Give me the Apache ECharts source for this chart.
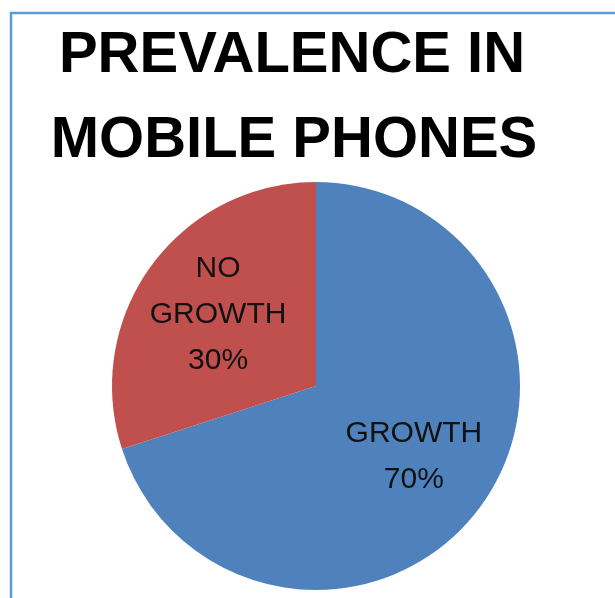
<!DOCTYPE html>
<html>
<head>
<meta charset="utf-8">
<script src="https://cdn.jsdelivr.net/npm/echarts@6/dist/echarts.min.js"></script>
<style>
  html, body { margin: 0; padding: 0; background: #fff; }
  #chart { width: 615px; height: 598px; }
</style>
</head>
<body>
<div id="chart"></div>
<script>
// Share of phones with and without growth
const categories = ['GROWTH', 'NO\nGROWTH'];
const values = [70, 30];
const colors = ['#4f81bd', '#c0504d'];
const titleLines = ['PREVALENCE IN', 'MOBILE PHONES'];

const chart = echarts.init(document.getElementById('chart'), null, { renderer: 'canvas' });

const slices = categories.map((name, i) => ({ name, value: values[i], itemStyle: { color: colors[i] } }));
const labelSlices = categories.map((name, i) => ({ name, value: values[i] }));

const font = 'Liberation Sans, Arial, sans-serif';

chart.setOption({
  backgroundColor: '#ffffff',
  animation: false,
  graphic: [
    {
      type: 'rect',
      shape: { x: 11, y: 13, width: 800, height: 800 },
      style: { fill: 'none', stroke: '#5b9bd5', lineWidth: 2.5 },
      silent: true
    },
    {
      type: 'text', x: 292, y: 56,
      style: { text: titleLines[0], fill: '#000', font: 'bold 58px ' + font, textAlign: 'center', textVerticalAlign: 'middle' }
    },
    {
      type: 'text', x: 294, y: 141,
      style: { text: titleLines[1], fill: '#000', font: 'bold 58px ' + font, textAlign: 'center', textVerticalAlign: 'middle' }
    }
  ],
  series: [
    {
      type: 'pie',
      center: [316, 386],
      radius: [0, 204],
      startAngle: 90,
      clockwise: true,
      silent: true,
      label: { show: false },
      labelLine: { show: false },
      data: slices
    },
    {
      // transparent overlay that only positions the slice labels
      type: 'pie',
      center: [316, 386],
      radius: [0, 236],
      startAngle: 90,
      clockwise: true,
      silent: true,
      itemStyle: { color: 'rgba(0,0,0,0)' },
      label: {
        show: true,
        position: 'inside',
        formatter: p => p.name + '\n' + p.value + '%',
        color: '#111',
        fontFamily: font,
        fontSize: 30,
        lineHeight: 46
      },
      labelLine: { show: false },
      data: labelSlices
    }
  ]
});
</script>
</body>
</html>
